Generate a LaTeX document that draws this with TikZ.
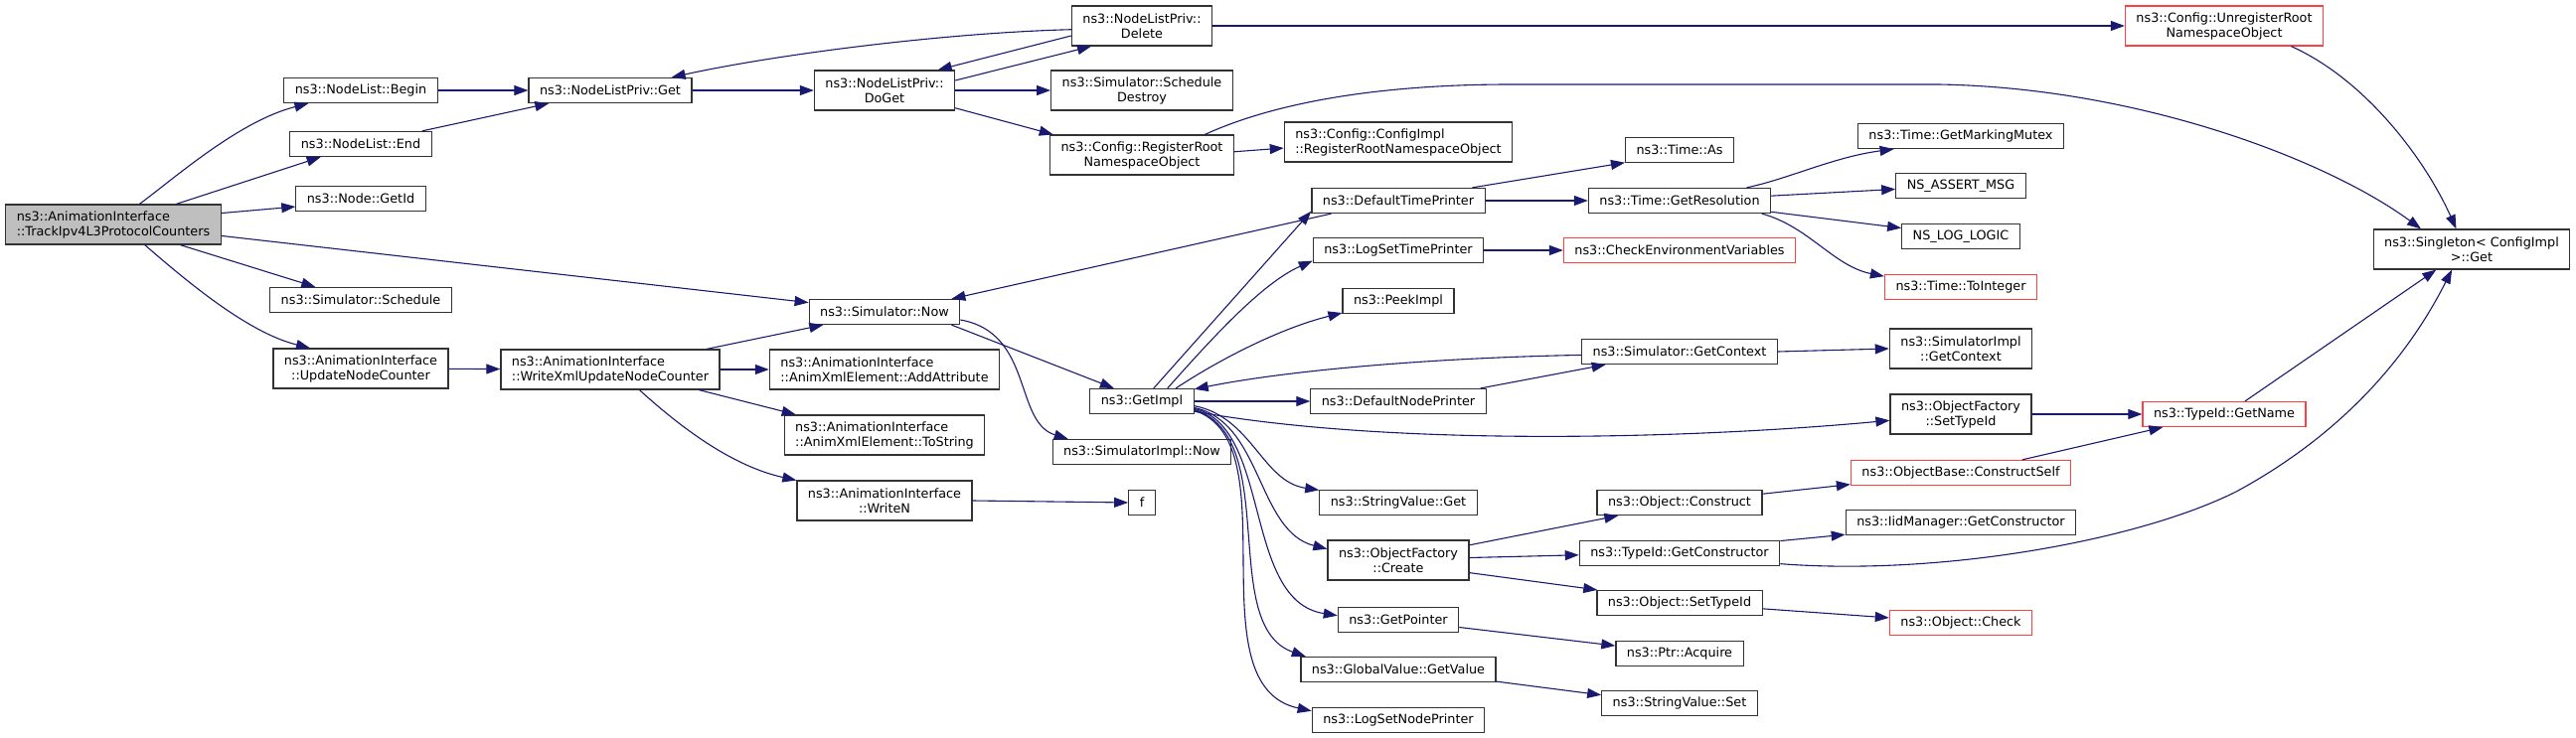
\documentclass[tikz,border=0pt]{standalone}
\usepackage{fontspec}
\setmainfont{DejaVu Sans}
\usetikzlibrary{arrows.meta}
\definecolor{ink}{HTML}{333333}
\definecolor{callc}{HTML}{191970}
\definecolor{trunc}{HTML}{FF4040}
\definecolor{cur}{HTML}{BFBFBF}
\tikzset{
  box/.style={draw=ink,line width=.6pt,fill=white,inner xsep=5.5pt,inner ysep=1pt,minimum height=12.5pt,align=center,font=\fontsize{6.4}{7.5}\selectfont},
  box2/.style={box,minimum height=20pt},
  boxl/.style={box2,align=left},
  boxr/.style={box,draw=trunc},
  ar/.style={-{Triangle[length=7pt,width=5pt]},draw=callc,line width=.55pt},
}

\begin{document}
\begin{tikzpicture}[x=0.5pt,y=-0.5pt]
  \useasboundingbox (0,0) rectangle (2592,743);

  \node[boxl,fill=cur] (main) at (114,226) {ns3::AnimationInterface\\::TrackIpv4L3ProtocolCounters};
  \node[box] (begin) at (363,91) {ns3::NodeList::Begin};
  \node[box] (endn) at (363,145) {ns3::NodeList::End};
  \node[box] (getid) at (363,200) {ns3::Node::GetId};
  \node[box] (sched) at (363,302) {ns3::Simulator::Schedule};
  \node[box2] (upd) at (363,371) {ns3::AnimationInterface\\::UpdateNodeCounter};

  \node[box] (get) at (614,91) {ns3::NodeListPriv::Get};
  \node[boxl] (wxml) at (614,372) {ns3::AnimationInterface\\::WriteXmlUpdateNodeCounter};

  \node[box2] (doget) at (890,91) {ns3::NodeListPriv::\\DoGet};
  \node[box] (now) at (890,314) {ns3::Simulator::Now};
  \node[boxl] (addattr) at (890,372) {ns3::AnimationInterface\\::AnimXmlElement::AddAttribute};
  \node[boxl] (tostr) at (890,438) {ns3::AnimationInterface\\::AnimXmlElement::ToString};
  \node[box2] (writen) at (890,504) {ns3::AnimationInterface\\::WriteN};

  \node[box2] (delete) at (1149,26) {ns3::NodeListPriv::\\Delete};
  \node[box2] (schdes) at (1149,91) {ns3::Simulator::Schedule\\Destroy};
  \node[box2] (regroot) at (1149,156) {ns3::Config::RegisterRoot\\NamespaceObject};
  \node[box] (gi) at (1149,404) {ns3::GetImpl};
  \node[box] (simnow) at (1149,455) {ns3::SimulatorImpl::Now};
  \node[box] (f) at (1149,506) {f};

  \node[boxl] (cfgimpl) at (1407,143) {ns3::Config::ConfigImpl\\::RegisterRootNamespaceObject};
  \node[box] (dtp) at (1407,202) {ns3::DefaultTimePrinter};
  \node[box] (lstp) at (1407,252) {ns3::LogSetTimePrinter};
  \node[box] (peek) at (1407,303) {ns3::PeekImpl};
  \node[box] (dnp) at (1407,404) {ns3::DefaultNodePrinter};
  \node[box] (svget) at (1407,506) {ns3::StringValue::Get};
  \node[box2] (create) at (1407,564) {ns3::ObjectFactory\\::Create};
  \node[box] (getptr) at (1407,624) {ns3::GetPointer};
  \node[box] (gvget) at (1407,674) {ns3::GlobalValue::GetValue};
  \node[box] (lsnp) at (1407,725) {ns3::LogSetNodePrinter};

  \node[box] (as) at (1690,151) {ns3::Time::As};
  \node[box] (getres) at (1690,202) {ns3::Time::GetResolution};
  \node[boxr] (chkenv) at (1690,252) {ns3::CheckEnvironmentVariables};
  \node[box] (getctx) at (1690,354) {ns3::Simulator::GetContext};
  \node[box] (construct) at (1690,506) {ns3::Object::Construct};
  \node[box] (getctor) at (1690,557) {ns3::TypeId::GetConstructor};
  \node[box] (setid) at (1690,607) {ns3::Object::SetTypeId};
  \node[box] (acquire) at (1690,658) {ns3::Ptr::Acquire};
  \node[box] (svset) at (1690,708) {ns3::StringValue::Set};

  \node[box] (mutex) at (1973,137) {ns3::Time::GetMarkingMutex};
  \node[box] (assert) at (1973,187) {NS\_ASSERT\_MSG};
  \node[box] (logic) at (1973,238) {NS\_LOG\_LOGIC};
  \node[boxr] (toint) at (1973,289) {ns3::Time::ToInteger};
  \node[box2] (implctx) at (1973,351) {ns3::SimulatorImpl\\::GetContext};
  \node[box2] (ofsetid) at (1973,417) {ns3::ObjectFactory\\::SetTypeId};
  \node[boxr] (cself) at (1973,476) {ns3::ObjectBase::ConstructSelf};
  \node[box] (iid) at (1973,526) {ns3::IidManager::GetConstructor};
  \node[boxr] (check) at (1973,627) {ns3::Object::Check};

  \node[box2,draw=trunc] (unreg) at (2238,26) {ns3::Config::UnregisterRoot\\NamespaceObject};
  \node[boxr] (getname) at (2238,417) {ns3::TypeId::GetName};
  \node[box2] (single) at (2487,251) {ns3::Singleton< ConfigImpl\\>::Get};

  \draw[ar] (main.38) .. controls (175,180) and (240,122) .. (begin.194);
  \draw[ar] (main.18) -- (endn.198);
  \draw[ar] (main.6) -- (getid.187);
  \draw[ar] (main.-6) -- (now.173);
  \draw[ar] (main.-17) -- (sched.164);
  \draw[ar] (main.-33) .. controls (190,285) and (250,335) .. (upd.158);
  \draw[ar] (begin) -- (get);
  \draw[ar] (endn.12) -- (get.192);
  \draw[ar] (get) -- (doget);
  \draw[ar] (doget.8) -- (delete.202);
  \draw[ar] (delete.188) -- (doget.21);
  \draw[ar] (delete.183) .. controls (950,33) and (780,55) .. (get.12);
  \draw[ar] (doget) -- (schdes);
  \draw[ar] (doget.-14) -- (regroot.167);
  \draw[ar] (delete) -- (unreg);
  \draw[ar] (regroot.2) -- (cfgimpl.183);
  \draw[ar] (regroot.18) .. controls (1290,100) and (1400,85) .. (1520,85) -- (1950,85) .. controls (2150,88) and (2340,160) .. (single.158);
  \draw[ar] (unreg.-17) .. controls (2380,80) and (2440,160) .. (single.127);
  \draw[ar] (upd) -- (wxml);
  \draw[ar] (wxml.12) -- (now.192);
  \draw[ar] (wxml) -- (addattr);
  \draw[ar] (wxml.-13) -- (tostr.167);
  \draw[ar] (wxml.-35) .. controls (690,435) and (740,470) .. (writen.167);
  \draw[ar] (writen.east) -- (f.west);
  \draw[ar] (now.-11) -- (gi.155);
  \draw[ar] (now.-6) .. controls (1040,335) and (1020,425) .. (simnow.170);
  \draw[ar] (dtp.191) -- (now.11);
  \draw[ar] (gi.48) -- (dtp.187);
  \draw[ar] (gi.27) .. controls (1220,340) and (1270,285) .. (lstp.187);
  \draw[ar] (gi.21) .. controls (1230,360) and (1290,330) .. (peek.192);
  \draw[ar] (getctx.182) .. controls (1450,360) and (1300,372) .. (gi.13);
  \draw[ar] (gi) -- (dnp);
  \draw[ar] (gi.-11) .. controls (1400,450) and (1700,442) .. (ofsetid.185);
  \draw[ar] (gi.-5) .. controls (1260,420) and (1270,485) .. (svget.171);
  \draw[ar] (gi.-7) .. controls (1270,425) and (1265,535) .. (create.171);
  \draw[ar] (gi.-8) .. controls (1280,430) and (1250,605) .. (getptr.176);
  \draw[ar] (gi.-9) .. controls (1290,440) and (1225,630) .. (gvget.172);
  \draw[ar] (gi.-10) .. controls (1300,445) and (1200,690) .. (lsnp.174);
  \draw[ar] (dnp.9) -- (getctx.190);
  \draw[ar] (dtp.10) -- (as.193);
  \draw[ar] (dtp) -- (getres);
  \draw[ar] (lstp) -- (chkenv);
  \draw[ar] (getres.11) .. controls (1800,180) and (1845,158) .. (mutex.191);
  \draw[ar] (getres.3) -- (assert.183);
  \draw[ar] (getres.-7) -- (logic.172);
  \draw[ar] (getres.-9) .. controls (1820,228) and (1845,268) .. (toint.172);
  \draw[ar] (getctx.east) -- (implctx.west);
  \draw[ar] (ofsetid) -- (getname);
  \draw[ar] (cself.12) -- (getname.192);
  \draw[ar] (getname.32) -- (single.210);
  \draw[ar] (create.12) -- (construct.192);
  \draw[ar] (create.2) -- (getctor.181);
  \draw[ar] (create.-10) -- (setid.171);
  \draw[ar] (construct.6) -- (cself.186);
  \draw[ar] (getctor.7) -- (iid.186);
  \draw[ar] (getctor.-6) .. controls (1950,580) and (2150,545) .. (2250,495) .. controls (2370,430) and (2430,345) .. (single.226);
  \draw[ar] (setid.-4) -- (check.176);
  \draw[ar] (getptr.-7) -- (acquire.173);
  \draw[ar] (gvget.-7) -- (svset.174);
\end{tikzpicture}
\end{document}
